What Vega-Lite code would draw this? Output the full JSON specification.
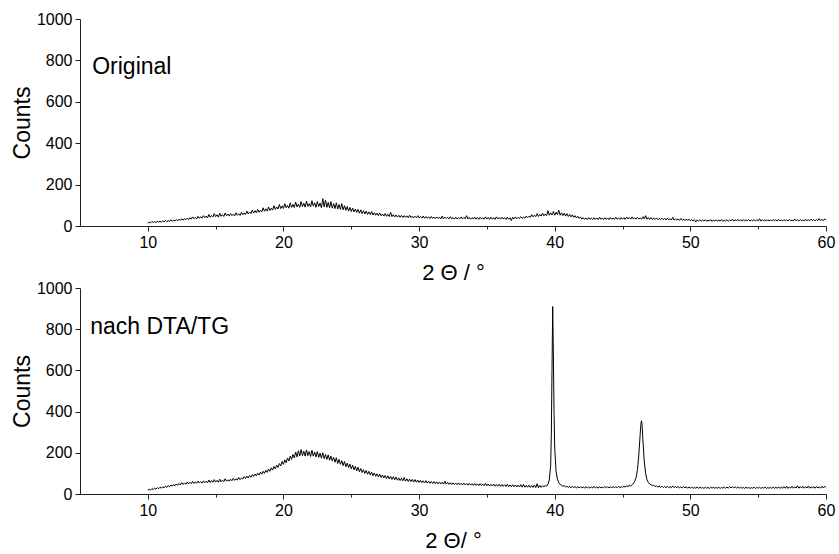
{
  "$schema": "https://vega.github.io/schema/vega-lite/v6.json",
  "background": "white",
  "padding": {"left": 11, "top": 11, "right": 6, "bottom": 2},
  "spacing": 62,
  "bounds": "flush",
  "config": {
    "view": {"stroke": null},
    "font": "Liberation Sans",
    "axis": {
      "domainColor": "#222",
      "tickColor": "#222",
      "labelColor": "#000",
      "titleColor": "#000",
      "labelFont": "Liberation Sans",
      "titleFont": "Liberation Sans",
      "labelFontSize": 16,
      "titleFontSize": 22,
      "titleFontWeight": "normal",
      "grid": false,
      "labelOverlap": false,
      "labelFlush": false,
      "labelPadding": 3
    }
  },
  "datasets": {
    "xrd": [
{"x":10.0,"a":14,"b":18},{"x":10.1,"a":19,"b":23},{"x":10.2,"a":15,"b":19},{"x":10.3,"a":22,"b":26},{"x":10.4,"a":17,"b":22},{"x":10.5,"a":21,"b":28},{"x":10.6,"a":16,"b":24},{"x":10.7,"a":24,"b":31},{"x":10.8,"a":19,"b":26},{"x":10.9,"a":23,"b":33},
{"x":11.0,"a":18,"b":28},{"x":11.1,"a":25,"b":35},{"x":11.2,"a":20,"b":30},{"x":11.3,"a":27,"b":38},{"x":11.4,"a":21,"b":32},{"x":11.5,"a":26,"b":41},{"x":11.6,"a":22,"b":35},{"x":11.7,"a":30,"b":44},{"x":11.8,"a":23,"b":38},{"x":11.9,"a":28,"b":46},
{"x":12.0,"a":24,"b":40},{"x":12.1,"a":31,"b":49},{"x":12.2,"a":25,"b":42},{"x":12.3,"a":33,"b":51},{"x":12.4,"a":27,"b":44},{"x":12.5,"a":35,"b":55},{"x":12.6,"a":28,"b":46},{"x":12.7,"a":36,"b":54},{"x":12.8,"a":30,"b":47},{"x":12.9,"a":38,"b":58},
{"x":13.0,"a":31,"b":49},{"x":13.1,"a":40,"b":57},{"x":13.2,"a":33,"b":50},{"x":13.3,"a":44,"b":61},{"x":13.4,"a":35,"b":51},{"x":13.5,"a":42,"b":59},{"x":13.6,"a":34,"b":52},{"x":13.7,"a":47,"b":63},{"x":13.8,"a":37,"b":54},{"x":13.9,"a":45,"b":60},
{"x":14.0,"a":38,"b":53},{"x":14.1,"a":50,"b":64},{"x":14.2,"a":40,"b":55},{"x":14.3,"a":48,"b":62},{"x":14.4,"a":39,"b":54},{"x":14.5,"a":56,"b":68},{"x":14.6,"a":42,"b":56},{"x":14.7,"a":51,"b":65},{"x":14.8,"a":44,"b":57},{"x":14.9,"a":60,"b":70},
{"x":15.0,"a":45,"b":58},{"x":15.1,"a":54,"b":66},{"x":15.2,"a":43,"b":57},{"x":15.3,"a":62,"b":72},{"x":15.4,"a":47,"b":59},{"x":15.5,"a":55,"b":67},{"x":15.6,"a":46,"b":60},{"x":15.7,"a":63,"b":74},{"x":15.8,"a":50,"b":62},{"x":15.9,"a":58,"b":69},
{"x":16.0,"a":48,"b":63},{"x":16.1,"a":60,"b":72},{"x":16.2,"a":50,"b":64},{"x":16.3,"a":57,"b":76},{"x":16.4,"a":49,"b":66},{"x":16.5,"a":64,"b":74},{"x":16.6,"a":52,"b":68},{"x":16.7,"a":59,"b":80},{"x":16.8,"a":51,"b":70},{"x":16.9,"a":66,"b":78},
{"x":17.0,"a":54,"b":73},{"x":17.1,"a":63,"b":84},{"x":17.2,"a":55,"b":75},{"x":17.3,"a":72,"b":87},{"x":17.4,"a":58,"b":78},{"x":17.5,"a":68,"b":90},{"x":17.6,"a":60,"b":81},{"x":17.7,"a":77,"b":94},{"x":17.8,"a":62,"b":85},{"x":17.9,"a":74,"b":97},
{"x":18.0,"a":64,"b":88},{"x":18.1,"a":80,"b":101},{"x":18.2,"a":66,"b":92},{"x":18.3,"a":76,"b":106},{"x":18.4,"a":68,"b":96},{"x":18.5,"a":88,"b":110},{"x":18.6,"a":71,"b":100},{"x":18.7,"a":83,"b":115},{"x":18.8,"a":72,"b":105},{"x":18.9,"a":92,"b":121},
{"x":19.0,"a":75,"b":110},{"x":19.1,"a":86,"b":127},{"x":19.2,"a":77,"b":116},{"x":19.3,"a":98,"b":134},{"x":19.4,"a":80,"b":122},{"x":19.5,"a":92,"b":140},{"x":19.6,"a":82,"b":129},{"x":19.7,"a":104,"b":148},{"x":19.8,"a":84,"b":136},{"x":19.9,"a":97,"b":158},
{"x":20.0,"a":85,"b":144},{"x":20.1,"a":108,"b":166},{"x":20.2,"a":88,"b":152},{"x":20.3,"a":100,"b":175},{"x":20.4,"a":86,"b":160},{"x":20.5,"a":112,"b":184},{"x":20.6,"a":90,"b":168},{"x":20.7,"a":104,"b":192},{"x":20.8,"a":89,"b":175},{"x":20.9,"a":116,"b":204},
{"x":21.0,"a":92,"b":180},{"x":21.1,"a":106,"b":210},{"x":21.2,"a":90,"b":184},{"x":21.3,"a":118,"b":216},{"x":21.4,"a":94,"b":186},{"x":21.5,"a":110,"b":208},{"x":21.6,"a":91,"b":184},{"x":21.7,"a":120,"b":214},{"x":21.8,"a":95,"b":186},{"x":21.9,"a":108,"b":206},
{"x":22.0,"a":92,"b":182},{"x":22.1,"a":122,"b":212},{"x":22.2,"a":96,"b":184},{"x":22.3,"a":112,"b":204},{"x":22.4,"a":90,"b":180},{"x":22.5,"a":118,"b":206},{"x":22.6,"a":94,"b":178},{"x":22.7,"a":110,"b":198},{"x":22.8,"a":88,"b":174},{"x":22.9,"a":132,"b":200},
{"x":23.0,"a":92,"b":172},{"x":23.1,"a":125,"b":192},{"x":23.2,"a":90,"b":168},{"x":23.3,"a":114,"b":190},{"x":23.4,"a":88,"b":164},{"x":23.5,"a":118,"b":184},{"x":23.6,"a":86,"b":160},{"x":23.7,"a":108,"b":178},{"x":23.8,"a":84,"b":154},{"x":23.9,"a":112,"b":176},
{"x":24.0,"a":82,"b":148},{"x":24.1,"a":104,"b":168},{"x":24.2,"a":80,"b":144},{"x":24.3,"a":108,"b":162},{"x":24.4,"a":78,"b":138},{"x":24.5,"a":98,"b":158},{"x":24.6,"a":76,"b":132},{"x":24.7,"a":94,"b":150},{"x":24.8,"a":72,"b":128},{"x":24.9,"a":90,"b":146},
{"x":25.0,"a":70,"b":122},{"x":25.1,"a":86,"b":140},{"x":25.2,"a":68,"b":118},{"x":25.3,"a":82,"b":134},{"x":25.4,"a":66,"b":112},{"x":25.5,"a":80,"b":130},{"x":25.6,"a":62,"b":108},{"x":25.7,"a":78,"b":124},{"x":25.8,"a":60,"b":104},{"x":25.9,"a":74,"b":118},
{"x":26.0,"a":58,"b":100},{"x":26.1,"a":72,"b":114},{"x":26.2,"a":56,"b":96},{"x":26.3,"a":68,"b":110},{"x":26.4,"a":55,"b":92},{"x":26.5,"a":70,"b":106},{"x":26.6,"a":53,"b":89},{"x":26.7,"a":64,"b":102},{"x":26.8,"a":52,"b":86},{"x":26.9,"a":62,"b":98},
{"x":27.0,"a":50,"b":83},{"x":27.1,"a":63,"b":96},{"x":27.2,"a":49,"b":80},{"x":27.3,"a":58,"b":92},{"x":27.4,"a":48,"b":78},{"x":27.5,"a":60,"b":90},{"x":27.6,"a":47,"b":75},{"x":27.7,"a":56,"b":88},{"x":27.8,"a":46,"b":73},{"x":27.9,"a":66,"b":86},
{"x":28.0,"a":45,"b":71},{"x":28.1,"a":55,"b":84},{"x":28.2,"a":44,"b":69},{"x":28.3,"a":53,"b":82},{"x":28.4,"a":43,"b":67},{"x":28.5,"a":52,"b":78},{"x":28.6,"a":42,"b":65},{"x":28.7,"a":51,"b":77},{"x":28.8,"a":41,"b":64},{"x":28.9,"a":50,"b":80},
{"x":29.0,"a":42,"b":62},{"x":29.1,"a":49,"b":74},{"x":29.2,"a":40,"b":61},{"x":29.3,"a":52,"b":72},{"x":29.4,"a":41,"b":60},{"x":29.5,"a":48,"b":71},{"x":29.6,"a":39,"b":58},{"x":29.7,"a":47,"b":70},{"x":29.8,"a":40,"b":57},{"x":29.9,"a":50,"b":68},
{"x":30.0,"a":39,"b":56},{"x":30.1,"a":46,"b":66},{"x":30.2,"a":38,"b":55},{"x":30.3,"a":48,"b":64},{"x":30.4,"a":37,"b":54},{"x":30.5,"a":45,"b":65},{"x":30.6,"a":38,"b":53},{"x":30.7,"a":44,"b":62},{"x":30.8,"a":36,"b":52},{"x":30.9,"a":46,"b":61},
{"x":31.0,"a":37,"b":51},{"x":31.1,"a":43,"b":60},{"x":31.2,"a":35,"b":50},{"x":31.3,"a":44,"b":59},{"x":31.4,"a":36,"b":49},{"x":31.5,"a":42,"b":58},{"x":31.6,"a":34,"b":49},{"x":31.7,"a":48,"b":57},{"x":31.8,"a":35,"b":48},{"x":31.9,"a":43,"b":62},
{"x":32.0,"a":36,"b":48},{"x":32.1,"a":42,"b":56},{"x":32.2,"a":34,"b":47},{"x":32.3,"a":45,"b":55},{"x":32.4,"a":35,"b":46},{"x":32.5,"a":41,"b":54},{"x":32.6,"a":33,"b":46},{"x":32.7,"a":43,"b":53},{"x":32.8,"a":34,"b":45},{"x":32.9,"a":40,"b":54},
{"x":33.0,"a":35,"b":45},{"x":33.1,"a":44,"b":52},{"x":33.2,"a":34,"b":44},{"x":33.3,"a":41,"b":53},{"x":33.4,"a":35,"b":44},{"x":33.5,"a":50,"b":51},{"x":33.6,"a":34,"b":43},{"x":33.7,"a":42,"b":52},{"x":33.8,"a":33,"b":43},{"x":33.9,"a":40,"b":50},
{"x":34.0,"a":34,"b":42},{"x":34.1,"a":43,"b":51},{"x":34.2,"a":33,"b":42},{"x":34.3,"a":41,"b":49},{"x":34.4,"a":32,"b":41},{"x":34.5,"a":42,"b":50},{"x":34.6,"a":34,"b":41},{"x":34.7,"a":40,"b":48},{"x":34.8,"a":33,"b":40},{"x":34.9,"a":44,"b":52},
{"x":35.0,"a":34,"b":40},{"x":35.1,"a":41,"b":48},{"x":35.2,"a":32,"b":39},{"x":35.3,"a":43,"b":47},{"x":35.4,"a":33,"b":39},{"x":35.5,"a":40,"b":48},{"x":35.6,"a":32,"b":38},{"x":35.7,"a":44,"b":46},{"x":35.8,"a":34,"b":38},{"x":35.9,"a":41,"b":47},
{"x":36.0,"a":33,"b":37},{"x":36.1,"a":42,"b":46},{"x":36.2,"a":34,"b":37},{"x":36.3,"a":40,"b":45},{"x":36.4,"a":32,"b":36},{"x":36.5,"a":43,"b":47},{"x":36.6,"a":33,"b":36},{"x":36.7,"a":40,"b":44},{"x":36.8,"a":26,"b":35},{"x":36.9,"a":42,"b":45},
{"x":37.0,"a":34,"b":35},{"x":37.1,"a":44,"b":44},{"x":37.2,"a":35,"b":34},{"x":37.3,"a":42,"b":43},{"x":37.4,"a":36,"b":34},{"x":37.5,"a":45,"b":45},{"x":37.6,"a":37,"b":33},{"x":37.7,"a":43,"b":47},{"x":37.8,"a":38,"b":33},{"x":37.9,"a":48,"b":42},
{"x":38.0,"a":40,"b":33},{"x":38.1,"a":47,"b":43},{"x":38.2,"a":42,"b":32},{"x":38.3,"a":55,"b":41},{"x":38.4,"a":44,"b":32},{"x":38.5,"a":52,"b":44},{"x":38.6,"a":45,"b":31},{"x":38.7,"a":60,"b":50},{"x":38.8,"a":46,"b":30},{"x":38.9,"a":56,"b":42},
{"x":39.0,"a":48,"b":32},{"x":39.1,"a":62,"b":40},{"x":39.2,"a":49,"b":34},{"x":39.3,"a":58,"b":42},{"x":39.4,"a":50,"b":38},{"x":39.5,"a":74,"b":48},{"x":39.6,"a":52,"b":68},{"x":39.7,"a":64,"b":140},{"x":39.75,"a":58,"b":290},{"x":39.8,"a":53,"b":600},{"x":39.85,"a":60,"b":910},{"x":39.9,"a":70,"b":680},{"x":39.95,"a":62,"b":390},
{"x":40.0,"a":52,"b":220},{"x":40.1,"a":66,"b":110},{"x":40.2,"a":54,"b":72},{"x":40.3,"a":76,"b":55},{"x":40.4,"a":52,"b":46},{"x":40.5,"a":64,"b":42},{"x":40.6,"a":50,"b":38},{"x":40.7,"a":62,"b":40},{"x":40.8,"a":48,"b":34},{"x":40.9,"a":60,"b":38},
{"x":41.0,"a":46,"b":32},{"x":41.1,"a":56,"b":37},{"x":41.2,"a":44,"b":31},{"x":41.3,"a":54,"b":36},{"x":41.4,"a":42,"b":30},{"x":41.5,"a":50,"b":37},{"x":41.6,"a":39,"b":29},{"x":41.7,"a":47,"b":35},{"x":41.8,"a":37,"b":30},{"x":41.9,"a":44,"b":36},
{"x":42.0,"a":33,"b":29},{"x":42.1,"a":40,"b":35},{"x":42.2,"a":32,"b":28},{"x":42.3,"a":39,"b":36},{"x":42.4,"a":31,"b":29},{"x":42.5,"a":41,"b":34},{"x":42.6,"a":32,"b":28},{"x":42.7,"a":38,"b":35},{"x":42.8,"a":31,"b":29},{"x":42.9,"a":40,"b":37},
{"x":43.0,"a":32,"b":29},{"x":43.1,"a":39,"b":35},{"x":43.2,"a":31,"b":28},{"x":43.3,"a":42,"b":36},{"x":43.4,"a":33,"b":29},{"x":43.5,"a":38,"b":34},{"x":43.6,"a":31,"b":30},{"x":43.7,"a":40,"b":37},{"x":43.8,"a":32,"b":29},{"x":43.9,"a":39,"b":35},
{"x":44.0,"a":31,"b":30},{"x":44.1,"a":41,"b":36},{"x":44.2,"a":33,"b":29},{"x":44.3,"a":38,"b":37},{"x":44.4,"a":32,"b":30},{"x":44.5,"a":42,"b":35},{"x":44.6,"a":33,"b":31},{"x":44.7,"a":39,"b":38},{"x":44.8,"a":32,"b":30},{"x":44.9,"a":41,"b":36},
{"x":45.0,"a":33,"b":32},{"x":45.1,"a":40,"b":38},{"x":45.2,"a":32,"b":33},{"x":45.3,"a":43,"b":40},{"x":45.4,"a":34,"b":35},{"x":45.5,"a":41,"b":44},{"x":45.6,"a":33,"b":38},{"x":45.7,"a":44,"b":45},{"x":45.8,"a":34,"b":50},{"x":45.9,"a":40,"b":62},
{"x":46.0,"a":33,"b":80},{"x":46.1,"a":42,"b":118},{"x":46.2,"a":34,"b":190},{"x":46.3,"a":39,"b":290},{"x":46.35,"a":36,"b":338},{"x":46.4,"a":33,"b":356},{"x":46.45,"a":40,"b":328},{"x":46.5,"a":45,"b":262},{"x":46.6,"a":34,"b":160},{"x":46.7,"a":50,"b":100},{"x":46.8,"a":33,"b":70},{"x":46.9,"a":41,"b":56},
{"x":47.0,"a":32,"b":48},{"x":47.1,"a":40,"b":45},{"x":47.2,"a":31,"b":40},{"x":47.3,"a":38,"b":43},{"x":47.4,"a":32,"b":36},{"x":47.5,"a":39,"b":40},{"x":47.6,"a":30,"b":33},{"x":47.7,"a":37,"b":39},{"x":47.8,"a":31,"b":32},{"x":47.9,"a":38,"b":38},
{"x":48.0,"a":30,"b":31},{"x":48.1,"a":37,"b":37},{"x":48.2,"a":29,"b":30},{"x":48.3,"a":38,"b":38},{"x":48.4,"a":30,"b":31},{"x":48.5,"a":36,"b":36},{"x":48.6,"a":29,"b":30},{"x":48.7,"a":42,"b":39},{"x":48.8,"a":28,"b":31},{"x":48.9,"a":35,"b":36},
{"x":49.0,"a":29,"b":30},{"x":49.1,"a":34,"b":37},{"x":49.2,"a":27,"b":29},{"x":49.3,"a":36,"b":35},{"x":49.4,"a":28,"b":30},{"x":49.5,"a":33,"b":36},{"x":49.6,"a":26,"b":29},{"x":49.7,"a":34,"b":35},{"x":49.8,"a":27,"b":28},{"x":49.9,"a":32,"b":34},
{"x":50.0,"a":26,"b":28},{"x":50.1,"a":31,"b":34},{"x":50.2,"a":24,"b":27},{"x":50.3,"a":30,"b":33},{"x":50.4,"a":20,"b":28},{"x":50.5,"a":29,"b":34},{"x":50.6,"a":24,"b":27},{"x":50.7,"a":30,"b":33},{"x":50.8,"a":23,"b":28},{"x":50.9,"a":29,"b":32},
{"x":51.0,"a":24,"b":27},{"x":51.1,"a":30,"b":33},{"x":51.2,"a":23,"b":28},{"x":51.3,"a":28,"b":32},{"x":51.4,"a":24,"b":27},{"x":51.5,"a":31,"b":33},{"x":51.6,"a":22,"b":28},{"x":51.7,"a":29,"b":34},{"x":51.8,"a":24,"b":27},{"x":51.9,"a":30,"b":32},
{"x":52.0,"a":23,"b":28},{"x":52.1,"a":29,"b":33},{"x":52.2,"a":24,"b":27},{"x":52.3,"a":31,"b":32},{"x":52.4,"a":22,"b":28},{"x":52.5,"a":28,"b":34},{"x":52.6,"a":24,"b":28},{"x":52.7,"a":30,"b":33},{"x":52.8,"a":23,"b":29},{"x":52.9,"a":29,"b":35},
{"x":53.0,"a":25,"b":29},{"x":53.1,"a":33,"b":36},{"x":53.2,"a":24,"b":30},{"x":53.3,"a":30,"b":35},{"x":53.4,"a":25,"b":29},{"x":53.5,"a":32,"b":34},{"x":53.6,"a":24,"b":28},{"x":53.7,"a":29,"b":33},{"x":53.8,"a":25,"b":28},{"x":53.9,"a":31,"b":32},
{"x":54.0,"a":24,"b":27},{"x":54.1,"a":30,"b":33},{"x":54.2,"a":25,"b":28},{"x":54.3,"a":31,"b":32},{"x":54.4,"a":24,"b":27},{"x":54.5,"a":29,"b":31},{"x":54.6,"a":25,"b":28},{"x":54.7,"a":31,"b":33},{"x":54.8,"a":24,"b":27},{"x":54.9,"a":30,"b":32},
{"x":55.0,"a":25,"b":28},{"x":55.1,"a":35,"b":33},{"x":55.2,"a":24,"b":27},{"x":55.3,"a":30,"b":32},{"x":55.4,"a":25,"b":28},{"x":55.5,"a":31,"b":34},{"x":55.6,"a":23,"b":27},{"x":55.7,"a":30,"b":31},{"x":55.8,"a":25,"b":28},{"x":55.9,"a":29,"b":33},
{"x":56.0,"a":24,"b":27},{"x":56.1,"a":31,"b":34},{"x":56.2,"a":25,"b":28},{"x":56.3,"a":30,"b":32},{"x":56.4,"a":24,"b":28},{"x":56.5,"a":32,"b":35},{"x":56.6,"a":25,"b":27},{"x":56.7,"a":29,"b":33},{"x":56.8,"a":24,"b":28},{"x":56.9,"a":31,"b":36},
{"x":57.0,"a":25,"b":28},{"x":57.1,"a":30,"b":38},{"x":57.2,"a":24,"b":27},{"x":57.3,"a":32,"b":34},{"x":57.4,"a":25,"b":29},{"x":57.5,"a":29,"b":37},{"x":57.6,"a":24,"b":28},{"x":57.7,"a":34,"b":35},{"x":57.8,"a":25,"b":29},{"x":57.9,"a":30,"b":40},
{"x":58.0,"a":24,"b":28},{"x":58.1,"a":31,"b":36},{"x":58.2,"a":25,"b":29},{"x":58.3,"a":30,"b":38},{"x":58.4,"a":24,"b":28},{"x":58.5,"a":32,"b":35},{"x":58.6,"a":26,"b":29},{"x":58.7,"a":30,"b":39},{"x":58.8,"a":25,"b":28},{"x":58.9,"a":33,"b":35},
{"x":59.0,"a":26,"b":29},{"x":59.1,"a":31,"b":36},{"x":59.2,"a":25,"b":28},{"x":59.3,"a":32,"b":37},{"x":59.4,"a":26,"b":29},{"x":59.5,"a":36,"b":35},{"x":59.6,"a":27,"b":28},{"x":59.7,"a":31,"b":38},{"x":59.8,"a":26,"b":29},{"x":59.9,"a":34,"b":37},
{"x":60.0,"a":28,"b":32}
    ],
    "labels": [
      {"panel":"top","x":5.9,"y":770,"label":"Original"},
      {"panel":"bottom","x":5.75,"y":810,"label":"nach DTA/TG"}
    ]
  },
  "vconcat": [
    {
      "width": 746,
      "height": 207,
      "layer": [
        {
          "data": {"name": "xrd"},
          "mark": {"type": "line", "color": "black", "strokeWidth": 1, "interpolate": "linear"},
          "encoding": {
            "x": {"field": "x", "type": "quantitative", "scale": {"domain": [5, 60], "nice": false, "zero": false},
              "axis": {"title": "2 Θ / °", "values": [10,15,20,25,30,35,40,45,50,55,60], "format": "d",
                "labelExpr": "datum.value % 10 === 0 ? datum.label : ''",
                "tickSize": {"condition": {"test": "datum.value % 10 === 0", "value": 5}, "value": 3},
                "titlePadding": 12}},
            "y": {"field": "a", "type": "quantitative", "scale": {"domain": [0, 1000], "nice": false},
              "axis": {"title": "Counts", "values": [0,100,200,300,400,500,600,700,800,900,1000], "format": "d",
                "labelExpr": "datum.value % 200 === 0 ? datum.label : ''",
                "tickSize": {"condition": {"test": "datum.value % 200 === 0", "value": 5}, "value": 3},
                "titleFontSize": 23, "titlePadding": 2}}
          }
        },
        {
          "data": {"name": "labels"},
          "transform": [{"filter": "datum.panel === 'top'"}],
          "mark": {"type": "text", "align": "left", "baseline": "middle", "fontSize": 23, "font": "Liberation Sans", "color": "black"},
          "encoding": {
            "x": {"field": "x", "type": "quantitative"},
            "y": {"field": "y", "type": "quantitative"},
            "text": {"field": "label"}
          }
        }
      ]
    },
    {
      "width": 746,
      "height": 206,
      "layer": [
        {
          "data": {"name": "xrd"},
          "mark": {"type": "line", "color": "black", "strokeWidth": 1, "interpolate": "linear"},
          "encoding": {
            "x": {"field": "x", "type": "quantitative", "scale": {"domain": [5, 60], "nice": false, "zero": false},
              "axis": {"title": "2 Θ/ °", "values": [10,15,20,25,30,35,40,45,50,55,60], "format": "d",
                "labelExpr": "datum.value % 10 === 0 ? datum.label : ''",
                "tickSize": {"condition": {"test": "datum.value % 10 === 0", "value": 5}, "value": 3},
                "titlePadding": 12}},
            "y": {"field": "b", "type": "quantitative", "scale": {"domain": [0, 1000], "nice": false},
              "axis": {"title": "Counts", "values": [0,100,200,300,400,500,600,700,800,900,1000], "format": "d",
                "labelExpr": "datum.value % 200 === 0 ? datum.label : ''",
                "tickSize": {"condition": {"test": "datum.value % 200 === 0", "value": 5}, "value": 3},
                "titleFontSize": 23, "titlePadding": 2}}
          }
        },
        {
          "data": {"name": "labels"},
          "transform": [{"filter": "datum.panel === 'bottom'"}],
          "mark": {"type": "text", "align": "left", "baseline": "middle", "fontSize": 23, "font": "Liberation Sans", "color": "black"},
          "encoding": {
            "x": {"field": "x", "type": "quantitative"},
            "y": {"field": "y", "type": "quantitative"},
            "text": {"field": "label"}
          }
        }
      ]
    }
  ]
}
